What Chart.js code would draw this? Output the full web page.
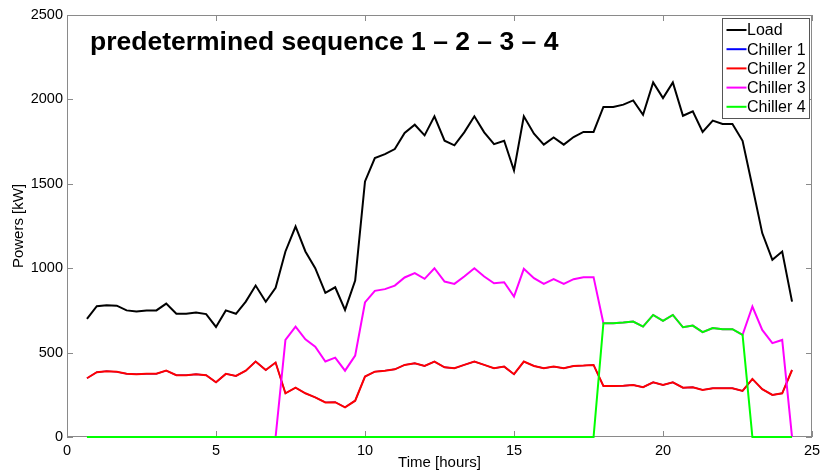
<!DOCTYPE html>
<html>
<head>
<meta charset="utf-8">
<script src="https://cdn.jsdelivr.net/npm/chart.js@4/dist/chart.umd.min.js"></script>
<style>
  html, body { margin: 0; padding: 0; background: #fff; }
  canvas { display: block; }
</style>
</head>
<body>
<canvas id="chart-canvas" width="821" height="472"></canvas>
<script>
'use strict';

// time of each sample [hours], 20 min steps
const hours = [0.67, 1.00, 1.33, 1.67, 2.00, 2.33, 2.67, 3.00, 3.33, 3.67, 4.00, 4.33,
    4.67, 5.00, 5.33, 5.67, 6.00, 6.33, 6.67, 7.00, 7.33, 7.67, 8.00, 8.33,
    8.67, 9.00, 9.33, 9.67, 10.00, 10.33, 10.67, 11.00, 11.33, 11.67, 12.00, 12.33,
    12.67, 13.00, 13.33, 13.67, 14.00, 14.33, 14.67, 15.00, 15.33, 15.67, 16.00, 16.33,
    16.67, 17.00, 17.33, 17.67, 18.00, 18.33, 18.67, 19.00, 19.33, 19.67, 20.00, 20.33,
    20.67, 21.00, 21.33, 21.67, 22.00, 22.33, 22.67, 23.00, 23.33, 23.67, 24.00, 24.33];

const load = [700, 775, 780, 778, 750, 743, 750, 750, 790, 730, 730, 737,
    728, 652, 750, 730, 802, 897, 801, 884, 1099, 1247, 1099, 1000,
    854, 887, 753, 927, 1514, 1652, 1676, 1706, 1801, 1850, 1787, 1900,
    1755, 1728, 1805, 1900, 1805, 1735, 1755, 1579, 1900, 1797, 1732, 1775,
    1732, 1777, 1807, 1807, 1955, 1955, 1969, 1994, 1909, 2101, 2008, 2101,
    1903, 1929, 1807, 1874, 1854, 1854, 1755, 1484, 1208, 1050, 1099, 802];

const chiller2 = [348, 384, 390, 386, 375, 372, 375, 375, 393, 366, 366, 372,
    366, 324, 374, 362, 393, 447, 397, 441, 259, 292, 259, 235,
    205, 206, 176, 215, 358, 387, 393, 401, 427, 437, 421, 447,
    413, 407, 427, 447, 427, 407, 417, 372, 447, 421, 407, 417,
    407, 421, 423, 427, 302, 302, 304, 308, 295, 324, 308, 324,
    292, 295, 279, 289, 289, 289, 273, 344, 283, 249, 259, 397];

// chiller 1 shares the load with chiller 2 and sits under the red line
const chiller1 = chiller2;

const chiller3 = [0, 0, 0, 0, 0, 0, 0, 0, 0, 0, 0, 0,
    0, 0, 0, 0, 0, 0, 0, 0, 575, 654, 579, 535,
    447, 470, 393, 482, 797, 866, 876, 897, 945, 971, 937, 1000,
    921, 907, 951, 1000, 951, 911, 917, 832, 996, 941, 907, 935,
    907, 935, 947, 947, 674, 674, 678, 684, 654, 723, 688, 723,
    650, 660, 621, 645, 639, 639, 605, 773, 634, 556, 575, 0];

const chiller4 = [0, 0, 0, 0, 0, 0, 0, 0, 0, 0, 0, 0,
    0, 0, 0, 0, 0, 0, 0, 0, 0, 0, 0, 0,
    0, 0, 0, 0, 0, 0, 0, 0, 0, 0, 0, 0,
    0, 0, 0, 0, 0, 0, 0, 0, 0, 0, 0, 0,
    0, 0, 0, 0, 674, 674, 678, 684, 654, 723, 688, 723,
    650, 660, 621, 645, 639, 639, 605, 0, 0, 0, 0, 0];

const seriesNames = ['Load', 'Chiller 1', 'Chiller 2', 'Chiller 3', 'Chiller 4'];
const seriesValues = [load, chiller1, chiller2, chiller3, chiller4];
const seriesColors = ['#000000', '#0000ff', '#ff0000', '#ff00ff', '#00ff00'];
const seriesWidths = [2, 1.4, 2, 2, 2];

const xTicks = [0, 5, 10, 15, 20, 25];
const yTicks = [0, 500, 1000, 1500, 2000, 2500];

const plotTitle = 'predetermined sequence 1 \u2013 2 \u2013 3 \u2013 4';
const fontFamily = "'Liberation Sans', Arial, Helvetica, sans-serif";
const axisGray = '#8a8a8a';

Chart.defaults.font.family = fontFamily;
Chart.defaults.color = '#000';

// box around the plot with inward ticks on all four sides
const frame = {
    id: 'frame',
    beforeDatasetsDraw(chart) {
        const { ctx, chartArea: a, scales } = chart;
        ctx.save();
        ctx.strokeStyle = axisGray;
        ctx.lineWidth = 1;
        ctx.strokeRect(a.left + 0.5, a.top + 0.5, a.right - a.left - 1, a.bottom - a.top - 1);
        ctx.beginPath();
        xTicks.forEach((v) => {
            const px = Math.round(scales.x.getPixelForValue(v)) + 0.5;
            ctx.moveTo(px, a.bottom);
            ctx.lineTo(px, a.bottom - 6);
            ctx.moveTo(px, a.top);
            ctx.lineTo(px, a.top + 6);
        });
        yTicks.forEach((v) => {
            const py = Math.round(scales.y.getPixelForValue(v)) + 0.5;
            ctx.moveTo(a.left, py);
            ctx.lineTo(a.left + 6, py);
            ctx.moveTo(a.right, py);
            ctx.lineTo(a.right - 6, py);
        });
        ctx.stroke();
        ctx.restore();
    }
};

// title text and legend box inside the plot area
const overlay = {
    id: 'overlay',
    afterDatasetsDraw(chart) {
        const { ctx, chartArea: a } = chart;
        ctx.save();
        ctx.fillStyle = '#000';
        ctx.font = 'bold 26.5px ' + fontFamily;
        ctx.textBaseline = 'alphabetic';
        ctx.textAlign = 'left';
        ctx.fillText(plotTitle, a.left + 23, a.top + 35);

        // legend
        const boxW = 87, boxH = 100, rowH = 19.2;
        const bx = a.right - boxW - 2.5, by = a.top + 3.5;
        ctx.fillStyle = '#fff';
        ctx.fillRect(bx, by, boxW, boxH);
        ctx.strokeStyle = '#555';
        ctx.lineWidth = 1;
        ctx.strokeRect(bx, by, boxW, boxH);
        ctx.font = '16px ' + fontFamily;
        ctx.textBaseline = 'middle';
        chart.data.datasets.forEach((ds, i) => {
            const cy = by + 11.5 + i * rowH;
            ctx.strokeStyle = ds.borderColor;
            ctx.lineWidth = 2;
            ctx.beginPath();
            ctx.moveTo(bx + 4, cy);
            ctx.lineTo(bx + 24, cy);
            ctx.stroke();
            ctx.fillStyle = '#000';
            ctx.fillText(ds.label, bx + 24.5, cy + 1);
        });
        ctx.restore();
    }
};

const ctx = document.getElementById('chart-canvas').getContext('2d');
const powerChart = new Chart(ctx, {
    type: 'line',
    data: {
        datasets: seriesNames.map((name, i) => ({
            label: name,
            data: hours.map((h, k) => ({ x: h, y: seriesValues[i][k] })),
            borderColor: seriesColors[i],
            backgroundColor: seriesColors[i],
            borderWidth: seriesWidths[i],
            pointRadius: 0,
            tension: 0,
            clip: 3,
            // later series drawn on top, like the original plot
            order: seriesNames.length - i
        }))
    },
    options: {
        responsive: false,
        animation: false,
        devicePixelRatio: 1,
        layout: { padding: { top: 15, right: 9, left: 0, bottom: 0 } },
        plugins: {
            legend: { display: false },
            tooltip: { enabled: false }
        },
        scales: {
            x: {
                type: 'linear',
                min: 0,
                max: 25,
                afterBuildTicks: (scale) => { scale.ticks = xTicks.map((v) => ({ value: v })); },
                afterFit: (scale) => {
                    scale.height = 35;
                    scale.paddingLeft = 0;
                    scale.paddingRight = 0;
                },
                grid: { display: false, drawTicks: false },
                border: { display: false },
                ticks: { font: { size: 14.5 }, padding: 5, maxRotation: 0, callback: (v) => String(v) },
                title: {
                    display: true,
                    text: 'Time [hours]',
                    font: { size: 15 },
                    padding: { top: 0, bottom: 0 }
                }
            },
            y: {
                min: 0,
                max: 2500,
                afterBuildTicks: (scale) => { scale.ticks = yTicks.map((v) => ({ value: v })); },
                afterFit: (scale) => { scale.width = 67; },
                grid: { display: false, drawTicks: false },
                border: { display: false },
                ticks: { font: { size: 14.5 }, padding: 4, callback: (v) => String(v) },
                title: {
                    display: true,
                    text: 'Powers [kW]',
                    font: { size: 15 },
                    padding: { top: 10, bottom: 0 }
                }
            }
        }
    },
    plugins: [frame, overlay]
});
</script>
</body>
</html>
